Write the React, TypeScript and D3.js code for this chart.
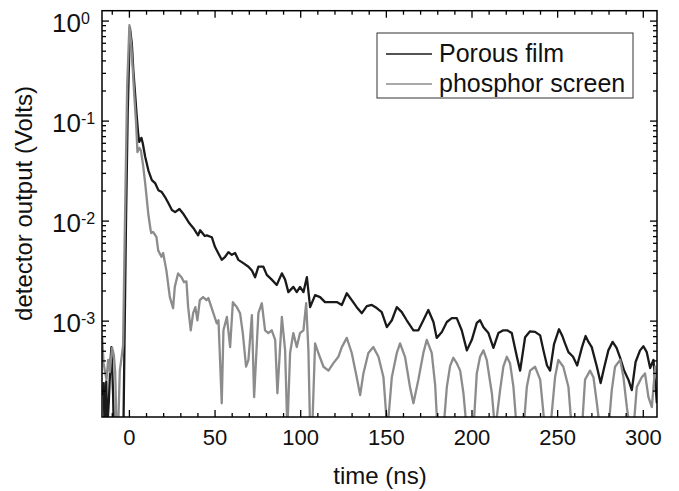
import React from 'react';
import * as d3 from 'd3';

const porousTime = [
  -15.5, -15, -14.5, -13.5, -13, -12, -11, -10.5, -10, -9.5, -9, -6, -3.5, -2, -1, 0.3,
  1.4, 2.3, 3.3, 4.3, 5.1, 5.7, 7.0, 7.8, 9.2, 11.1, 13.1, 15.0, 16.9, 18.9, 20.8, 22.8,
  24.8, 26.7, 29.2, 31.2, 33.1, 35.0, 37.4, 40.1, 41.3, 44.0, 45.2, 48.1, 50.0, 53.9,
  55.9, 57.8, 59.8, 61.7, 63.6, 66.5, 69.5, 71.5, 73.4, 75.3, 78.2, 80.2, 83.1, 86.0,
  89.0, 90.9, 92.8, 95.7, 97.7, 99.6, 101.6, 103.6, 105.5, 108.4, 111.3, 114.2, 117.2,
  121.1, 124.0, 126.9, 129.8, 132.7, 135.7, 138.6, 141.5, 144.4, 147.3, 150.3, 153.2,
  156.1, 159.0, 161.9, 165.8, 168.7, 171.6, 174.5, 177.5, 179.4, 182.4, 185.3, 188.2,
  191.1, 194.0, 197.0, 199.9, 202.8, 204.7, 206.7, 209.6, 212.5, 215.4, 218.3, 220.5,
  223.2, 226.2, 228.1, 231.0, 233.9, 236.8, 239.8, 241.7, 243.8, 245.6, 247.9, 250.8,
  252.6, 254.3, 256.3, 259.0, 261.4, 264.1, 266.3, 268.0, 269.9, 272.9, 275.1, 277.1,
  279.6, 282.1, 284.4, 286.5, 288.8, 291.3, 293.3, 295.5, 298.1, 300.1, 302.0, 304.0,
  305.9, 306.9, 307.9,
];
const porousVolts = [
  1.8e-4, 2.4e-4, 8e-5, 2.5e-4, 8e-5, 1.6e-4, 4.1e-4, 5.5e-4, 3.2e-4, 1.8e-4, 6e-5, 5e-5, 8e-5, 0.0095, 0.12, 0.86,
  0.60, 0.32, 0.19, 0.11, 0.076, 0.062, 0.068, 0.060, 0.044, 0.032, 0.0257, 0.024, 0.0204, 0.0195, 0.0174, 0.0151,
  0.0129, 0.0123, 0.0132, 0.0120, 0.0107, 0.0095, 0.0085, 0.0072, 0.0081, 0.0071, 0.0072, 0.0069, 0.0055, 0.0041,
  0.0044, 0.0049, 0.0046, 0.0048, 0.0041, 0.0038, 0.0035, 0.0032, 0.00275, 0.0035, 0.0035, 0.0029, 0.0026, 0.0023,
  0.0030, 0.0026, 0.00195, 0.0022, 0.00195, 0.0022, 0.00195, 0.00275, 0.00138, 0.00182, 0.00174, 0.00155, 0.00155,
  0.00155, 0.00145, 0.0019, 0.00162, 0.00138, 0.0012, 0.00141, 0.00145, 0.00135, 0.00123, 0.00087, 0.00102,
  0.00138, 0.00123, 0.00102, 0.00081, 0.00081, 0.00102, 0.00129, 0.00098, 0.00068, 0.00078, 0.00098, 0.00107,
  0.00107, 0.00081, 0.00051, 0.00065, 0.00096, 0.00102, 0.00087, 0.00076, 0.00054, 0.00076, 0.00081, 0.00081,
  0.00076, 0.00044, 0.00032, 0.00069, 0.00079, 0.00078, 0.00072, 0.00051, 0.00036, 0.00032, 0.00059, 0.00083,
  0.00072, 0.0006, 0.00049, 0.00044, 0.00036, 0.00054, 0.00071, 0.00062, 0.00055, 0.00035, 0.00024, 0.00034,
  0.00051, 0.00062, 0.00054, 0.00043, 0.00032, 0.00026, 0.000204, 0.00039, 0.00051, 0.00056, 0.00049, 0.00034,
  0.00041, 0.00026, 0.000151,
];

const phosphorTime = [
  -15.9, -15.1, -14.2, -13.4, -12.4, -11.4, -10.1, -9.1, -8.3, -7.5, -6.6, -5.6, -4.6, -3.7, -2.5, -1.3, 0,
  1.0, 2.0, 2.9, 3.9, 4.7, 5.8, 6.7, 8.0, 9.2, 11.1, 12.4, 12.8, 13.8, 15.8, 16.8, 18.7, 19.7, 21.6, 23.6,
  25.5, 26.5, 28.4, 30.4, 31.9, 33.3, 34.3, 35.8, 37.2, 38.5, 39.7, 41.1, 43.0, 45.0, 46.1, 49.0, 51.0, 52.0,
  53.9, 54.9, 56.9, 58.8, 60.4, 62.7, 64.6, 66.2, 68.1, 69.5, 71.5, 72.8, 75.3, 77.3, 79.2, 81.1, 83.1, 85.1,
  86.4, 89.0, 90.9, 92.2, 93.8, 95.7, 97.7, 99.6, 101.6, 103.2, 104.5, 105.5, 106.7, 108.4, 110.3, 113.3,
  116.2, 119.1, 122.0, 124.0, 126.9, 129.8, 132.7, 134.7, 136.6, 139.5, 142.4, 145.4, 148.3, 150.6, 153.2,
  156.1, 158.0, 160.9, 163.8, 165.8, 168.7, 171.6, 173.6, 176.5, 178.5, 179.9, 183.3, 185.3, 187.2, 189.1,
  191.1, 193.1, 195.0, 197.0, 200.8, 202.8, 204.7, 206.7, 208.6, 211.6, 213.5, 216.4, 218.3, 220.3, 222.2,
  224.2, 226.2, 230.0, 232.0, 233.9, 236.8, 239.8, 242.7, 245.6, 248.5, 250.4, 253.3, 256.3, 258.3, 264.1,
  266.0, 268.9, 270.9, 272.9, 274.8, 279.6, 281.6, 283.5, 286.5, 288.4, 290.4, 292.3, 294.2, 296.2, 299.1,
  301.0, 303.0, 305.0, 306.9, 308,
];
const phosphorVolts = [
  6.9e-4, 3.8e-4, 3.1e-4, 2.6e-4, 4.1e-4, 3.1e-4, 5.4e-4, 4.6e-4, 3.1e-4, 8e-5, 8e-5, 3.2e-4, 4.3e-4, 5.75e-4, 0.0129, 0.229, 0.91,
  0.60, 0.32, 0.174, 0.095, 0.049, 0.054, 0.051, 0.036, 0.024, 0.0115, 0.0081, 0.0076, 0.0078, 0.0069, 0.0051, 0.0044, 0.0048, 0.0032, 0.00174,
  0.00135, 0.0022, 0.0030, 0.00275, 0.00245, 0.0025, 0.00138, 0.00081, 0.0012, 0.00138, 0.00102, 0.00162, 0.00174, 0.00162, 0.0017, 0.0012, 0.00095, 0.00102,
  0.000151, 0.00081, 0.0011, 0.00055, 0.00155, 0.00138, 0.0012, 0.00076, 0.00035, 0.00041, 0.00115, 0.000174, 0.0012, 0.00151, 0.00081, 0.00076, 0.00081, 0.00065,
  0.00019, 0.0011, 0.00051, 8e-5, 0.00048, 0.00076, 0.00055, 0.00076, 0.00081, 0.00151, 0.00051, 8e-5, 8e-5, 0.0006, 0.00048, 0.00035,
  0.00032, 0.00038, 0.00044, 0.00055, 0.00068, 0.00048, 0.000275, 0.000182, 0.0003, 0.00048, 0.00055, 0.00044, 0.000275, 8e-5, 0.000275,
  0.00048, 0.0006, 0.00044, 0.000219, 0.000151, 0.00026, 0.00048, 0.00065, 0.00048, 0.000229, 8e-5, 8e-5, 0.000219, 0.000355, 0.00043,
  0.00038, 0.00032, 0.00019, 8e-5, 8e-5, 0.0003, 0.00044, 0.00051, 0.00041, 0.00019, 8e-5, 0.000204, 0.00035, 0.00044, 0.00038,
  0.000219, 8e-5, 8e-5, 0.000219, 0.00032, 0.00035, 0.00026, 8e-5, 8e-5, 0.000275, 0.00041, 0.00035, 0.000219, 8e-5, 8e-5,
  0.00026, 0.00032, 0.000275, 0.000151, 8e-5, 8e-5, 0.000204, 0.00035, 0.00041, 0.000275, 0.000138, 8e-5, 8e-5, 0.000219, 0.000275,
  0.0003, 0.000174, 0.000138, 0.00035, 0.00026,
];

const xMajorTicks = [0, 50, 100, 150, 200, 250, 300];
const yMajorTicks = [1e-3, 1e-2, 1e-1, 1];
const yTickExponents = ['-3', '-2', '-1', '0'];
const seriesNames = ['Porous film', 'phosphor screen'];
const xTitle = 'time (ns)';
const yTitle = 'detector output (Volts)';

const W = 679;
const H = 491;
const L = 102, R = 657, T = 10.7, B = 417;
const FONT = 'Liberation Sans, Arial, Helvetica, sans-serif';

export default function App() {
  const x = d3.scaleLinear().domain([-16, 308]).range([L, R]);
  const y = d3.scaleLog().domain([1.1e-4, 1.27]).range([B, T]);
  const line = d3.line<[number, number]>().x((d) => x(d[0])).y((d) => y(d[1]));

  const porous: [number, number][] = porousTime.map((t, i) => [t, porousVolts[i]]);
  const phosphor: [number, number][] = phosphorTime.map((t, i) => [t, phosphorVolts[i]]);

  const xMinor = d3.range(-10, 308, 10).filter((v) => !xMajorTicks.includes(v));
  const yMinor: number[] = [];
  for (let k = -4; k <= 0; k++) {
    for (let m = 2; m <= 9; m++) {
      const v = m * Math.pow(10, k);
      if (v > 1.1e-4 && v < 1.27) yMinor.push(v);
    }
  }
  const MAJ = 7, MIN = 4;

  return (
    <svg width={W} height={H} style={{ position: 'absolute', left: 0, top: 0, background: '#fff' }} fontFamily={FONT}>
      <defs>
        <clipPath id="plotclip">
          <rect x={L} y={T} width={R - L} height={B - T} />
        </clipPath>
      </defs>
      <g clipPath="url(#plotclip)" fill="none" strokeLinejoin="round">
        <path d={line(porous) || ''} stroke="#1a1a1a" strokeWidth={2.3} />
        <path d={line(phosphor) || ''} stroke="#8c8c8c" strokeWidth={2.3} />
      </g>
      <rect x={L} y={T} width={R - L} height={B - T} fill="none" stroke="#000" strokeWidth={1.5} />
      <g stroke="#000" strokeWidth={1.3}>
        {xMajorTicks.map((v) => (
          <g key={'xm' + v}>
            <line x1={x(v)} x2={x(v)} y1={B} y2={B - MAJ} />
            <line x1={x(v)} x2={x(v)} y1={T} y2={T + MAJ} />
          </g>
        ))}
        {xMinor.map((v) => (
          <g key={'xn' + v}>
            <line x1={x(v)} x2={x(v)} y1={B} y2={B - MIN} />
            <line x1={x(v)} x2={x(v)} y1={T} y2={T + MIN} />
          </g>
        ))}
        {yMajorTicks.map((v) => (
          <g key={'ym' + v}>
            <line x1={L} x2={L + MAJ} y1={y(v)} y2={y(v)} />
            <line x1={R} x2={R - MAJ} y1={y(v)} y2={y(v)} />
          </g>
        ))}
        {yMinor.map((v) => (
          <g key={'yn' + v}>
            <line x1={L} x2={L + MIN} y1={y(v)} y2={y(v)} />
            <line x1={R} x2={R - MIN} y1={y(v)} y2={y(v)} />
          </g>
        ))}
      </g>
      <g fontSize={22} textAnchor="middle" fill="#111">
        {xMajorTicks.map((v) => (
          <text key={'xl' + v} x={x(v)} y={445}>{v}</text>
        ))}
      </g>
      <g fill="#111">
        {yMajorTicks.map((v, i) => (
          <text key={'yl' + v} x={52} y={y(v) + 10.7} fontSize={26}>
            10<tspan dy={-8} fontSize={16}>{yTickExponents[i]}</tspan>
          </text>
        ))}
      </g>
      <text x={380} y={484} fontSize={24} textAnchor="middle" fill="#111">{xTitle}</text>
      <text transform={`translate(32,203.5) rotate(-90)`} fontSize={24} textAnchor="middle" fill="#111">{yTitle}</text>
      <g>
        <rect x={377} y={33} width={256} height={65} fill="#fff" stroke="#333" strokeWidth={1} />
        <line x1={386} x2={432} y1={54} y2={54} stroke="#1a1a1a" strokeWidth={1.6} />
        <line x1={386} x2={432} y1={84} y2={84} stroke="#8c8c8c" strokeWidth={1.6} />
        <text x={439} y={62} fontSize={25} fill="#111">{seriesNames[0]}</text>
        <text x={439} y={92} fontSize={25} fill="#111">{seriesNames[1]}</text>
      </g>
    </svg>
  );
}
